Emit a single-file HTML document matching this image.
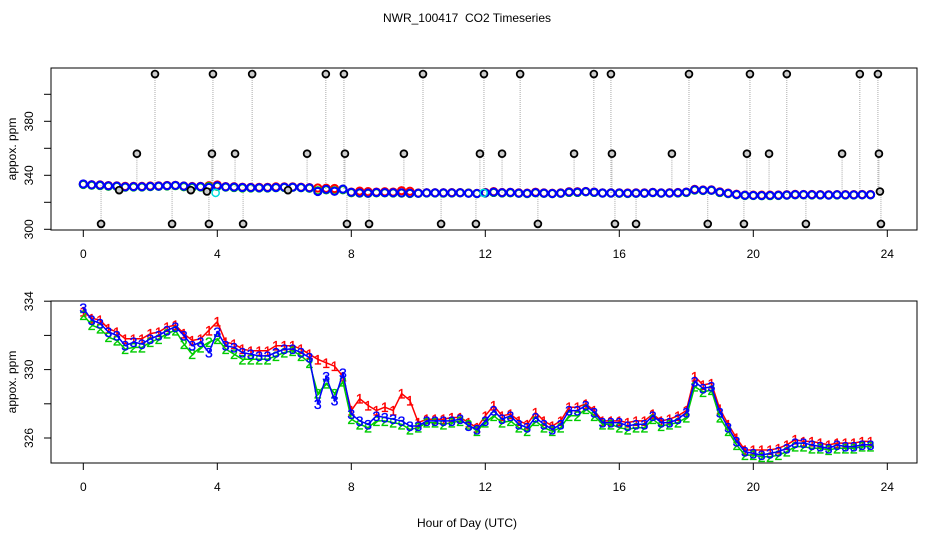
<!DOCTYPE html>
<html><head><meta charset="utf-8"><style>
body{margin:0;background:#fff;}
svg text{font-family:"Liberation Sans",sans-serif;}
</style></head><body>
<svg id="c" width="936" height="540" xmlns="http://www.w3.org/2000/svg">
<rect width="936" height="540" fill="#fff"/>
<text x="467" y="22" font-size="12" text-anchor="middle" style="white-space:pre">NWR_100417  CO2 Timeseries</text>
<text x="467" y="527" font-size="12" text-anchor="middle">Hour of Day (UTC)</text>
<g id="topPanel"></g>
<g id="botPanel"></g>
</svg>
<script>
const blue=[333.6,332.9,332.7,332.2,332.0,331.4,331.6,331.5,
331.8,332.0,332.3,332.5,332.0,331.4,331.6,331.0,
332.2,331.4,331.3,331.0,330.9,330.8,330.8,331.0,
331.2,331.2,331.0,330.7,328.0,329.6,328.2,329.8,
327.4,327.0,326.8,327.3,327.2,327.1,327.0,326.7,
326.7,327.0,327.0,327.0,327.0,327.1,326.7,326.5,
327.0,327.6,327.1,327.3,326.8,326.6,327.2,326.8,
326.5,326.8,327.6,327.6,327.9,327.5,326.9,326.9,
326.9,326.7,326.8,326.8,327.3,326.9,326.9,327.1,
327.5,329.3,328.9,329.0,327.5,326.6,325.8,325.2,
325.1,325.0,325.1,325.2,325.4,325.7,325.7,325.6,
325.5,325.4,325.6,325.5,325.5,325.6,325.6];
const green=[333.2,332.6,332.4,331.9,331.7,331.2,331.3,331.3,
331.6,331.8,332.1,332.3,331.5,330.9,331.3,331.6,
331.8,331.2,330.9,330.6,330.6,330.6,330.6,330.8,
331.0,331.1,330.8,330.4,328.6,329.2,328.6,329.3,
327.1,326.8,326.6,327.0,327.0,326.9,326.8,326.5,
326.6,326.9,326.9,326.8,326.9,327.0,326.8,326.4,
326.9,327.3,326.9,327.0,326.6,326.4,327.0,326.6,
326.4,326.6,327.3,327.3,327.7,327.3,326.8,326.8,
326.6,326.5,326.6,326.6,327.1,326.7,326.8,326.9,
327.2,329.0,328.7,328.8,327.2,326.4,325.6,325.0,
325.0,324.9,324.9,325.0,325.2,325.5,325.5,325.4,
325.4,325.3,325.4,325.4,325.4,325.5,325.5];
const red=[333.4,333.0,332.9,332.4,332.2,331.8,331.8,331.8,
332.1,332.2,332.5,332.6,332.1,331.7,331.8,332.3,
332.8,331.6,331.5,331.2,331.1,331.1,331.1,331.4,
331.4,331.4,331.2,330.9,330.6,330.4,330.2,329.6,
327.6,328.3,327.9,327.6,327.8,327.6,328.6,328.2,
326.9,327.1,327.1,327.1,327.2,327.2,326.9,326.6,
327.3,327.9,327.3,327.4,327.0,326.8,327.5,327.0,
326.7,327.0,327.8,327.8,328.0,327.6,327.0,327.0,
327.0,326.9,327.0,327.0,327.4,327.0,327.1,327.3,
327.6,329.6,329.1,329.2,327.7,326.8,326.0,325.3,
325.3,325.3,325.3,325.4,325.6,325.9,325.8,325.8,
325.7,325.6,325.7,325.7,325.7,325.8,325.8];
const hours=blue.map((v,i)=>i*0.25);
const cyanHours=[3.95,11.95];
const cyanVals=[327,327];
const outHours=[2.14,3.87,5.04,7.24,7.78,10.14,11.96,13.04,15.24,15.75,18.08,19.90,21.0,23.18,23.72,
1.60,3.84,4.53,6.68,7.81,9.57,11.84,12.5,14.65,15.78,17.57,19.81,20.47,22.65,23.75,
0.53,2.65,3.75,4.77,7.87,8.53,10.68,11.72,13.57,15.87,16.5,18.64,19.72,21.57,23.81,
1.07,3.21,3.69,6.11,23.78];
const outVals=[415,415,415,415,415,415,415,415,415,415,415,415,415,415,415,
356,356,356,356,356,356,356,356,356,356,356,356,356,356,356,
304,304,304,304,304,304,304,304,304,304,304,304,304,304,304,
329,329,328,329,328];
const xTicks=[0,4,8,12,16,20,24];
const topTicks=[300,320,340,360,380,400];
const topLabels=[300,340,380];
const botTicks=[326,328,330,332,334];
const botLabels=[326,330,334];

const NS="http://www.w3.org/2000/svg";
function mk(p,tag,at,txt){const e=document.createElementNS(NS,tag);for(const k in at)e.setAttribute(k,at[k]);if(txt!==undefined)e.textContent=txt;p.appendChild(e);return e;}
const xS=h=>83.3+h*33.5;
const yT=v=>229.3-(v-300)*1.35;
const yB=v=>438-(v-326)*17.1;
function traceAt(h){let i=Math.round(h/0.25);i=Math.max(0,Math.min(blue.length-1,i));return blue[i];}

function axes(g,y0,y1,ticks,labels,yf,labelY){
  const box=mk(g,'rect',{x:51,y:y0,width:866,height:y1-y0,fill:'none',stroke:'#000','stroke-width':1});
  
  
  xTicks.forEach(t=>{
    const l=mk(g,'line',{x1:xS(t),x2:xS(t),y1:y1,y2:y1+7,stroke:'#000'});
    
    
    const tx=mk(g,'text',{x:xS(t),y:y1+28,'font-size':12,'text-anchor':'middle'},t);
    
    
  });
  ticks.forEach(t=>{
    const l=mk(g,'line',{x1:44,x2:51,y1:yf(t),y2:yf(t),stroke:'#000'});
    
    
  });
  labels.forEach(t=>{
    const tx=mk(g,'text',{x:0,y:0,'font-size':12,'text-anchor':'middle',transform:`translate(33,${yf(t)}) rotate(-90)`},t);
    
    
  });
  const yl=mk(g,'text',{x:0,y:0,'font-size':12,'text-anchor':'middle',transform:`translate(16,${labelY}) rotate(-90)`},'appox. ppm');
  
  
}

// TOP PANEL
const topG=document.getElementById('topPanel');
axes(topG,68,230,topTicks,topLabels,yT,149);
outHours.forEach((h,i)=>{
  const l=mk(topG,'line',{x1:xS(h),x2:xS(h),y1:yT(outVals[i]),y2:yT(traceAt(h)),stroke:'#aaa','stroke-dasharray':'1,1'});
  
  
});
[[red,'#f00'],[green,'#0c0'],[blue,'#00f']].forEach(([arr,c])=>{
  arr.forEach((v,i)=>{
    const p=mk(topG,'circle',{cx:xS(hours[i]),cy:yT(v),r:3.6,fill:'none',stroke:c,'stroke-width':2});
    
    
  });
});
cyanHours.forEach((h,i)=>{
  const p=mk(topG,'circle',{cx:xS(h),cy:yT(cyanVals[i]),r:3.6,fill:'none',stroke:'#0dd','stroke-width':1.5});
  
  
});
outHours.forEach((h,i)=>{
  const p=mk(topG,'circle',{cx:xS(h),cy:yT(outVals[i]),r:3.4,fill:'#ccc',stroke:'#000','stroke-width':1.8});
  
  
});

// BOTTOM PANEL
const botG=document.getElementById('botPanel');
axes(botG,301,463,botTicks,botLabels,yB,382);
[[red,'#f00','1'],[green,'#0c0','2'],[blue,'#00f','3']].forEach(([arr,c,ch])=>{
  const pts=arr.map((v,i)=>xS(hours[i]).toFixed(1)+','+yB(v).toFixed(1)).join(' ');
  const pl=mk(botG,'polyline',{points:pts,fill:'none',stroke:c,'stroke-width':1.5});
  
  
  arr.forEach((v,i)=>{
    const t=mk(botG,'text',{x:xS(hours[i]),y:yB(v)+5,'font-size':14,fill:c,stroke:c,'stroke-width':0.3,'text-anchor':'middle'},ch);
    
    
  });
});
</script>
</body></html>
